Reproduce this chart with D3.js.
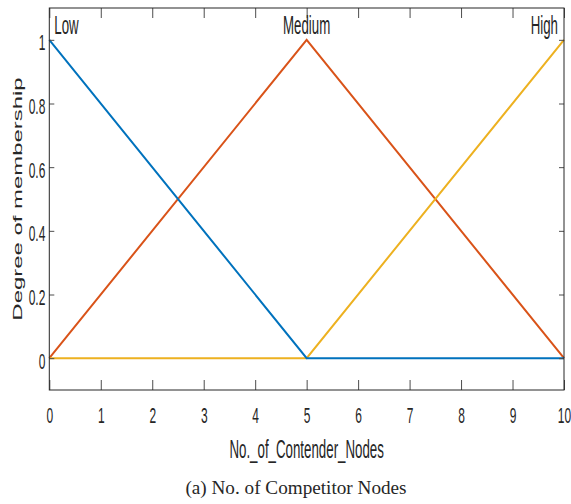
<!DOCTYPE html>
<html>
<head>
<meta charset="utf-8">
<script src="https://cdn.jsdelivr.net/npm/d3@7"></script>
<style>
  body { margin: 0; background: #fff; }
  text { font-family: "Liberation Sans", Arial, sans-serif; fill: #262626; }
</style>
</head>
<body>
<div id="app"></div>
<script>
const xPoints = [0, 5, 10];
const lowValues = [1, 0, 0];
const mediumValues = [0, 1, 0];
const highValues = [0, 0, 1];
const mfNames = ["Low", "Medium", "High"];
const xTicks = [0, 1, 2, 3, 4, 5, 6, 7, 8, 9, 10];
const yTicks = [0, 0.2, 0.4, 0.6, 0.8, 1];
const xLabel = "No._of_Contender_Nodes";
const yLabel = "Degree of membership";
const caption = "(a) No. of Competitor Nodes";

const width = 571;
const height = 504;
const stretch = 1.9;

const svg = d3.select("#app")
  .append("svg")
  .attr("width", width)
  .attr("height", height);

const x = d3.scaleLinear().domain([0, 10]).range([49.3, 564]);
const y = d3.scaleLinear().domain([-0.1, 1.1]).range([390, 8]);

// lines, drawn so that blue sits on top of yellow on the right half
const series = [
  { name: "Medium", values: mediumValues, color: "#D95319" },
  { name: "High", values: highValues, color: "#EDB120" },
  { name: "Low", values: lowValues, color: "#0072BD" }
];

const line = d3.line()
  .x((d, i) => x(xPoints[i]))
  .y(d => y(d));

svg.selectAll("path.mf")
  .data(series)
  .join("path")
  .classed("mf", true)
  .attr("d", d => line(d.values))
  .attr("fill", "none")
  .attr("stroke", d => d.color)
  .attr("stroke-width", 2);

// axes, ticks pointing inward
const bottom = svg.append("g")
  .attr("transform", `translate(0, ${y(-0.1)})`)
  .call(d3.axisBottom(x).tickValues(xTicks).tickSize(-10).tickFormat(d3.format("d")));
bottom.selectAll("text")
  .attr("y", null)
  .attr("dy", null)
  .attr("font-size", 12)
  .attr("transform", `translate(0, 33) scale(1, ${stretch})`);

svg.append("g")
  .attr("transform", `translate(0, ${y(1.1)})`)
  .call(d3.axisTop(x).tickValues(xTicks).tickSize(-10).tickFormat(""));

const left = svg.append("g")
  .attr("transform", `translate(${x(0)}, 0)`)
  .call(d3.axisLeft(y).tickValues(yTicks).tickSize(-5).tickFormat(d => String(d)));
left.selectAll("text")
  .attr("x", null)
  .attr("dy", null)
  .attr("font-size", 12)
  .attr("transform", `translate(-4, 10) scale(1, ${stretch})`);

svg.append("g")
  .attr("transform", `translate(${x(10)}, 0)`)
  .call(d3.axisRight(y).tickValues(yTicks).tickSize(-5).tickFormat(""));

svg.selectAll(".domain").remove();
svg.selectAll(".tick line").attr("stroke", "#4d4d4d");
svg.selectAll(".tick text").attr("fill", "#262626").attr("font-family", null);

svg.append("rect")
  .attr("x", x(0))
  .attr("y", y(1.1))
  .attr("width", x(10) - x(0))
  .attr("height", y(-0.1) - y(1.1))
  .attr("fill", "none")
  .attr("stroke", "#262626")
  .attr("stroke-width", 1);

// membership function names
const nameAnchors = [
  { x: xPoints[0], anchor: "start", dx: 5 },
  { x: xPoints[1], anchor: "middle", dx: 0 },
  { x: xPoints[2], anchor: "end", dx: -6 }
];
svg.selectAll("text.mfname")
  .data(mfNames)
  .join("text")
  .classed("mfname", true)
  .text(d => d)
  .attr("text-anchor", (d, i) => nameAnchors[i].anchor)
  .attr("font-size", 13.3)
  .attr("transform", (d, i) =>
    `translate(${x(nameAnchors[i].x) + nameAnchors[i].dx}, ${y(1) - 5.5}) scale(1, ${stretch})`);

// axis titles
svg.append("text")
  .text(xLabel)
  .attr("text-anchor", "middle")
  .attr("font-size", 13.3)
  .attr("transform", `translate(${(x(0) + x(10)) / 2}, 458) scale(1, ${stretch})`);

svg.append("text")
  .text(yLabel)
  .attr("text-anchor", "middle")
  .attr("font-size", 12.6)
  .attr("transform", `translate(21.5, ${(y(-0.1) + y(1.1)) / 2}) rotate(-90) scale(${stretch}, 1)`);

svg.append("text")
  .text(caption)
  .attr("text-anchor", "middle")
  .attr("x", 296)
  .attr("y", 494)
  .attr("font-size", 19.2)
  .style("font-family", "'Liberation Serif', 'Times New Roman', serif")
  .attr("fill", "#000");
</script>
</body>
</html>
